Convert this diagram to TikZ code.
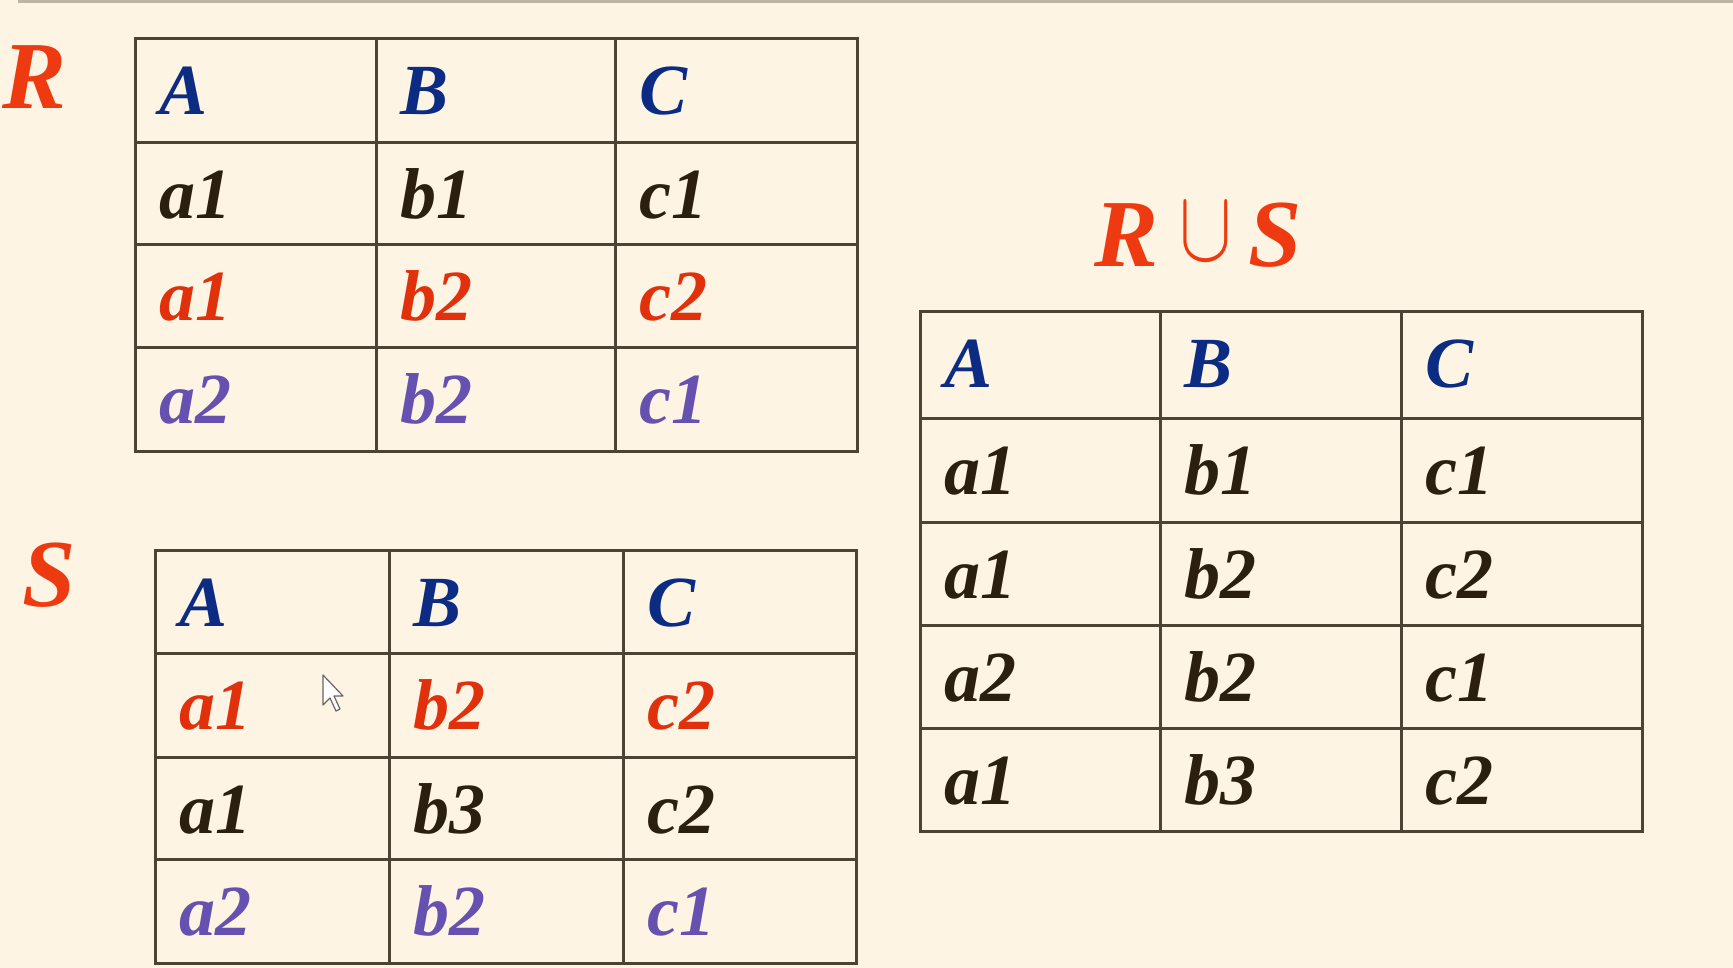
\documentclass[tikz,border=0pt]{standalone}
\usepackage{fontspec}
\setmainfont{Liberation Serif}
\definecolor{bgc}{HTML}{FDF4E3}
\definecolor{gridc}{HTML}{4B4333}
\definecolor{hdr}{HTML}{0C2C84}
\definecolor{txt}{HTML}{2B1F10}
\definecolor{redc}{HTML}{E0300C}
\definecolor{purc}{HTML}{6650B0}
\definecolor{lblc}{HTML}{EE3A10}
\definecolor{topc}{HTML}{BDB5A3}
\tikzset{
  gridline/.style={draw=gridc, line width=3pt},
  cell/.style={anchor=base west, inner sep=0pt, font=\fontsize{72}{80}\selectfont\bfseries\itshape},
  hd/.style={cell, text=hdr},
  nt/.style={cell, text=txt},
  rt/.style={cell, text=redc},
  pt/.style={cell, text=purc},
  lbl/.style={inner sep=0pt, text=lblc, font=\fontsize{96}{100}\selectfont\bfseries\itshape},
  cupsym/.style={inner sep=0pt, text=lblc, xscale=7.9, yscale=10.2},
}
\begin{document}
\begin{tikzpicture}[x=1pt,y=-1pt]
\fill[bgc] (0,0) rectangle (1733,968);
\useasboundingbox (0,0) rectangle (1733,968);
% top rule
\coordinate (tl) at (18,2);
\coordinate (tr) at (1733,2);
\draw[topc, line width=3pt] (tl) -- (tr);

% ---------- R table ----------
\draw[gridline] (135,39) rectangle (857,451);
\foreach \x in {376,615} \draw[gridline] (\x,39) -- (\x,451);
\foreach \y in {143,245,348} \draw[gridline] (135,\y) -- (857,\y);
\node[lbl, anchor=base west] (Rlbl) at (2,109) {R};
\node[hd] (R11) at (159,115) {A};
\node[hd] (R12) at (400,115) {B};
\node[hd] (R13) at (639,115) {C};
\node[nt] (R21) at (159,219) {a1};
\node[nt] (R22) at (400,219) {b1};
\node[nt] (R23) at (639,219) {c1};
\node[rt] (R31) at (159,321) {a1};
\node[rt] (R32) at (400,321) {b2};
\node[rt] (R33) at (639,321) {c2};
\node[pt] (R41) at (159,424) {a2};
\node[pt] (R42) at (400,424) {b2};
\node[pt] (R43) at (639,424) {c1};

% ---------- S table ----------
\draw[gridline] (155,550) rectangle (856,963);
\foreach \x in {389,623} \draw[gridline] (\x,550) -- (\x,963);
\foreach \y in {653,757,859} \draw[gridline] (155,\y) -- (856,\y);
\node[lbl, anchor=base west] (Slbl) at (22,606) {S};
\node[hd] (S11) at (179,626) {A};
\node[hd] (S12) at (413,626) {B};
\node[hd] (S13) at (647,626) {C};
\node[rt] (S21) at (179,729) {a1};
\node[rt] (S22) at (413,729) {b2};
\node[rt] (S23) at (647,729) {c2};
\node[nt] (S31) at (179,833) {a1};
\node[nt] (S32) at (413,833) {b3};
\node[nt] (S33) at (647,833) {c2};
\node[pt] (S41) at (179,935) {a2};
\node[pt] (S42) at (413,935) {b2};
\node[pt] (S43) at (647,935) {c1};

% mouse cursor
\fill[white, draw=gray!80!black, line width=1.2pt, line join=round]
  (323,675) -- (323,705) -- (330,698) -- (336,711) -- (340,709) -- (334,696) -- (343,696) -- cycle;

% ---------- R union S table ----------
\node[lbl, anchor=base west] (UR) at (1094,267) {R};
\node[cupsym, anchor=center] (Ucup) at (1206,232) {$\cup$};
\node[lbl, anchor=base west] (US) at (1248,267) {S};
\draw[gridline] (920,312) rectangle (1642,831);
\foreach \x in {1160,1401} \draw[gridline] (\x,312) -- (\x,831);
\foreach \y in {418,522,625,728} \draw[gridline] (920,\y) -- (1642,\y);
\node[hd] (U11) at (944,388) {A};
\node[hd] (U12) at (1184,388) {B};
\node[hd] (U13) at (1425,388) {C};
\node[nt] (U21) at (944,494) {a1};
\node[nt] (U22) at (1184,494) {b1};
\node[nt] (U23) at (1425,494) {c1};
\node[nt] (U31) at (944,598) {a1};
\node[nt] (U32) at (1184,598) {b2};
\node[nt] (U33) at (1425,598) {c2};
\node[nt] (U41) at (944,701) {a2};
\node[nt] (U42) at (1184,701) {b2};
\node[nt] (U43) at (1425,701) {c1};
\node[nt] (U51) at (944,804) {a1};
\node[nt] (U52) at (1184,804) {b3};
\node[nt] (U53) at (1425,804) {c2};
\end{tikzpicture}
\end{document}
